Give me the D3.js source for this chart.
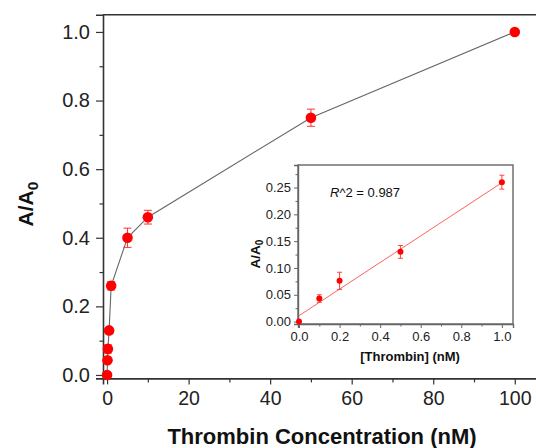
<!DOCTYPE html>
<html>
<head>
<meta charset="utf-8">
<script src="https://cdn.jsdelivr.net/npm/d3@7"></script>
<style>
  body { margin: 0; background: #fff; }
  svg { display: block; font-family: "Liberation Sans", Arial, sans-serif; }
</style>
</head>
<body>
<div id="chart"></div>
<script>
// main curve data
var conc   = [0, 0.1, 0.2, 0.5, 1, 5, 10, 50, 100];
var ratio  = [0, 0.043, 0.076, 0.13, 0.26, 0.40, 0.46, 0.75, 1.0];
var ratioErr = [0, 0.005, 0.012, 0.008, 0.012, 0.028, 0.02, 0.025, 0];
var xTicks = [0, 20, 40, 60, 80, 100];
var yTicks = [0, 0.2, 0.4, 0.6, 0.8, 1.0];

// inset (linear range) data
var inConc  = [0, 0.1, 0.2, 0.5, 1.0];
var inRatio = [0, 0.043, 0.076, 0.13, 0.26];
var inErr   = [0, 0.007, 0.016, 0.012, 0.013];
var fitLine = [[0, 0.011], [1.0, 0.259]];
var inXTicks = [0, 0.2, 0.4, 0.6, 0.8, 1.0];
var inYTicks = [0, 0.05, 0.10, 0.15, 0.20, 0.25];

var W = 536, H = 448;
var svg = d3.select("#chart").append("svg").attr("width", W).attr("height", H);

// ---- main plot ----
var x = d3.scaleLinear().domain([-1, 106]).range([103, 103 + 107 * 4.077]);
var y = d3.scaleLinear().domain([-0.01, 1.05]).range([378.4, 14.8]);
var frameCol = "#333";

// frame: top line + axes
svg.append("line").attr("x1", x(-1)).attr("x2", W).attr("y1", y(1.05)).attr("y2", y(1.05))
    .attr("stroke", frameCol).attr("stroke-width", 1.6);

var main = svg.append("g");
var xAx = main.append("g").attr("transform", "translate(0," + y(-0.01) + ")")
    .call(d3.axisBottom(x).tickValues(xTicks).tickFormat(d3.format("d")).tickSize(6).tickPadding(7));
main.append("g").attr("transform", "translate(0," + y(-0.01) + ")")
    .call(d3.axisBottom(x).tickValues([10, 30, 50, 70, 90]).tickFormat("").tickSize(4))
    .select(".domain").remove();

var yAx = main.append("g").attr("transform", "translate(" + x(-1) + ",0)")
    .call(d3.axisLeft(y).tickValues(yTicks).tickFormat(d3.format(".1f")).tickSize(7).tickPadding(6));
main.append("g").attr("transform", "translate(" + x(-1) + ",0)")
    .call(d3.axisLeft(y).tickValues([0.1, 0.3, 0.5, 0.7, 0.9]).tickFormat("").tickSize(3.5))
    .select(".domain").remove();

main.selectAll(".domain").attr("stroke", frameCol).attr("stroke-width", 1.6);
main.selectAll(".tick line").attr("stroke", frameCol).attr("stroke-width", 1.2);
xAx.selectAll(".tick text").attr("fill", "#222").style("font-size", "19.5px");
yAx.selectAll(".tick text").attr("fill", "#222").style("font-size", "20px");

// titles
svg.append("text").attr("x", 322).attr("y", 444).attr("text-anchor", "middle")
    .style("font-size", "22px").style("font-weight", "bold").attr("fill", "#111")
    .text("Thrombin Concentration (nM)");
var yt = svg.append("text").attr("transform", "translate(33,204) rotate(-90)").attr("text-anchor", "middle")
    .style("font-size", "21px").style("font-weight", "bold").attr("fill", "#111");
yt.append("tspan").text("A/A");
yt.append("tspan").attr("dy", 5).style("font-size", "15.5px").text("0");

// connecting line
var pts = conc.map(function(c, i) { return [c, ratio[i], ratioErr[i]]; });
svg.append("path").datum(pts)
    .attr("fill", "none").attr("stroke", "#666").attr("stroke-width", 1.1)
    .attr("d", d3.line().x(function(d) { return x(d[0]); }).y(function(d) { return y(d[1]); }));

// error bars
var eb = svg.append("g").attr("stroke", "#ff3030").attr("stroke-width", 1);
pts.filter(function(d) { return d[2] > 0; }).forEach(function(d) {
  var cx = x(d[0]);
  eb.append("line").attr("x1", cx).attr("x2", cx).attr("y1", y(d[1] - d[2])).attr("y2", y(d[1] + d[2]));
  eb.append("line").attr("x1", cx - 4).attr("x2", cx + 4).attr("y1", y(d[1] - d[2])).attr("y2", y(d[1] - d[2]));
  eb.append("line").attr("x1", cx - 4).attr("x2", cx + 4).attr("y1", y(d[1] + d[2])).attr("y2", y(d[1] + d[2]));
});

svg.append("g").selectAll("circle").data(pts).enter().append("circle")
    .attr("cx", function(d) { return x(d[0]); })
    .attr("cy", function(d) { return y(d[1]); })
    .attr("r", 5.3).attr("fill", "#ff0000");

// ---- inset ----
var ix = d3.scaleLinear().domain([-0.005, 1.055]).range([298, 513]);
var iy = d3.scaleLinear().domain([-0.0045, 0.292]).range([324, 165]);
var inCol = "#666";

svg.append("rect").attr("x", 298).attr("y", 165).attr("width", 513 - 298).attr("height", 324 - 165)
    .attr("fill", "#fff").attr("stroke", inCol).attr("stroke-width", 1.4);

var inset = svg.append("g");
var ixAx = inset.append("g").attr("transform", "translate(0,324)")
    .call(d3.axisBottom(ix).tickValues(inXTicks).tickFormat(d3.format(".1f")).tickSize(4).tickPadding(4));
inset.append("g").attr("transform", "translate(0,324)")
    .call(d3.axisBottom(ix).tickValues([0.1, 0.3, 0.5, 0.7, 0.9]).tickFormat("").tickSize(2.5))
    .select(".domain").remove();
var iyAx = inset.append("g").attr("transform", "translate(298,0)")
    .call(d3.axisLeft(iy).tickValues(inYTicks).tickFormat(d3.format(".2f")).tickSize(4).tickPadding(3));
inset.append("g").attr("transform", "translate(298,0)")
    .call(d3.axisLeft(iy).tickValues([0.025, 0.075, 0.125, 0.175, 0.225, 0.275]).tickFormat("").tickSize(2.5))
    .select(".domain").remove();
inset.selectAll(".domain").attr("stroke", inCol).attr("stroke-width", 1.4);
inset.selectAll(".tick line").attr("stroke", inCol).attr("stroke-width", 1);
inset.selectAll(".tick text").attr("fill", "#222").style("font-size", "13px");

svg.append("text").attr("x", 410).attr("y", 361).attr("text-anchor", "middle")
    .style("font-size", "13px").style("font-weight", "bold").attr("fill", "#111")
    .text("[Thrombin] (nM)");
var iyt = svg.append("text").attr("transform", "translate(260,254) rotate(-90)").attr("text-anchor", "middle")
    .style("font-size", "13.5px").style("font-weight", "bold").attr("fill", "#111");
iyt.append("tspan").text("A/A");
iyt.append("tspan").attr("dy", 3).style("font-size", "10px").text("0");

var r2 = svg.append("text").attr("x", 330).attr("y", 197).style("font-size", "13px").attr("fill", "#111");
r2.append("tspan").style("font-style", "italic").text("R");
r2.append("tspan").text("^2 = 0.987");

svg.append("path").datum(fitLine)
    .attr("fill", "none").attr("stroke", "#ff6060").attr("stroke-width", 1)
    .attr("d", d3.line().x(function(d) { return ix(d[0]); }).y(function(d) { return iy(d[1]); }));

var ipts = inConc.map(function(c, i) { return [c, inRatio[i], inErr[i]]; });
var ieb = svg.append("g").attr("stroke", "#ff3030").attr("stroke-width", 0.9);
ipts.filter(function(d) { return d[2] > 0; }).forEach(function(d) {
  var cx = ix(d[0]);
  ieb.append("line").attr("x1", cx).attr("x2", cx).attr("y1", iy(d[1] - d[2])).attr("y2", iy(d[1] + d[2]));
  ieb.append("line").attr("x1", cx - 2.5).attr("x2", cx + 2.5).attr("y1", iy(d[1] - d[2])).attr("y2", iy(d[1] - d[2]));
  ieb.append("line").attr("x1", cx - 2.5).attr("x2", cx + 2.5).attr("y1", iy(d[1] + d[2])).attr("y2", iy(d[1] + d[2]));
});
svg.append("g").selectAll("circle").data(ipts).enter().append("circle")
    .attr("cx", function(d) { return ix(d[0]); })
    .attr("cy", function(d) { return iy(d[1]); })
    .attr("r", 3).attr("fill", "#ff0000");
</script>
</body>
</html>
